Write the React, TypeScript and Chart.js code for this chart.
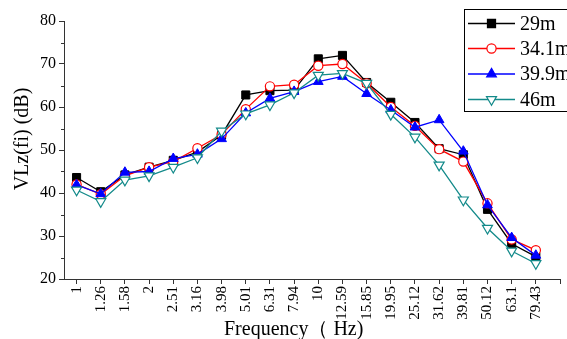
import React, { useEffect, useRef } from "react";
import { Chart, registerables } from "chart.js";

Chart.register(...registerables);

const freqLabels = ["1", "1.26", "1.58", "2", "2.51", "3.16", "3.98", "5.01", "6.31", "7.94", "10", "12.59", "15.85", "19.95", "25.12", "31.62", "39.81", "50.12", "63.1", "79.43"];

const s29m = [43.6, 40.3, 44.2, 46.0, 47.6, 49.5, 53.5, 62.8, 63.8, 63.9, 71.2, 72.0, 65.7, 61.1, 56.4, 50.3, 48.9, 36.2, 28.2, 25.2];
const s34m = [42.0, 39.7, 44.0, 46.0, 47.3, 50.4, 53.6, 59.5, 64.8, 65.2, 69.6, 70.0, 65.5, 60.0, 55.6, 50.2, 47.3, 37.6, 29.2, 26.7];
const s39m = [41.9, 39.8, 44.8, 45.0, 48.0, 49.0, 52.6, 58.6, 62.0, 63.6, 65.9, 67.1, 63.1, 59.3, 55.3, 57.0, 49.7, 37.2, 29.6, 25.5];
const s46m = [40.7, 38.0, 43.0, 44.0, 46.0, 48.2, 54.4, 58.4, 60.5, 63.3, 67.4, 67.8, 65.5, 58.3, 53.0, 46.5, 38.4, 31.8, 26.5, 23.6];

const seriesNames = ["29m", "34.1m", "39.9m", "46m"];
const TEAL = "#138a8a";

const serif = "'Liberation Serif', 'Times New Roman', serif";

const toPts = (arr: number[]) => arr.map((v, i) => ({ x: i, y: v }));

function drawMarker(ctx: CanvasRenderingContext2D, style: string, r: number, rot: number, x: number, y: number) {
  ctx.beginPath();
  if (style === "rect") {
    const s = Math.SQRT1_2 * r;
    ctx.rect(x - s, y - s, 2 * s, 2 * s);
  } else if (style === "circle") {
    ctx.arc(x, y, r, 0, Math.PI * 2);
  } else if (style === "triangle") {
    let rad = (rot * Math.PI) / 180;
    ctx.moveTo(x + Math.sin(rad) * r, y - Math.cos(rad) * r);
    rad += (2 * Math.PI) / 3;
    ctx.lineTo(x + Math.sin(rad) * r, y - Math.cos(rad) * r);
    rad += (2 * Math.PI) / 3;
    ctx.lineTo(x + Math.sin(rad) * r, y - Math.cos(rad) * r);
    ctx.closePath();
  }
  ctx.fill();
  ctx.stroke();
}

const decorPlugin = {
  id: "decor",
  beforeDraw(chart: any) {
    const ctx = chart.ctx;
    ctx.save();
    ctx.fillStyle = "#fff";
    ctx.fillRect(0, 0, chart.width, chart.height);
    ctx.restore();
  },
  afterDraw(chart: any) {
    const ctx = chart.ctx;
    const ys = chart.scales.y;
    ctx.save();
    // minor y ticks
    ctx.strokeStyle = "#333";
    ctx.lineWidth = 1;
    for (let v = 25; v < 80; v += 10) {
      const py = Math.round(ys.getPixelForValue(v)) + 0.5;
      ctx.beginPath();
      ctx.moveTo(ys.right - 3, py);
      ctx.lineTo(ys.right, py);
      ctx.stroke();
    }
    // axis titles
    ctx.fillStyle = "#000";
    ctx.font = `20px ${serif}`;
    ctx.textAlign = "left";
    ctx.textBaseline = "alphabetic";
    ctx.fillText("Frequency（ Hz)", 224, 335);
    ctx.save();
    ctx.translate(28, 139);
    ctx.rotate(-Math.PI / 2);
    ctx.textAlign = "center";
    ctx.fillText("VLz(fi) (dB)", 0, 0);
    ctx.restore();

    // legend
    ctx.strokeStyle = "#000";
    ctx.lineWidth = 1;
    ctx.strokeRect(464.5, 9.5, 140, 102);
    const rows = [23.5, 48.5, 74, 99.5];
    const ds = chart.data.datasets;
    ds.forEach((d: any, i: number) => {
      const y = rows[i];
      ctx.strokeStyle = d.borderColor;
      ctx.lineWidth = 1.3;
      ctx.beginPath();
      ctx.moveTo(468, y);
      ctx.lineTo(515, y);
      ctx.stroke();
      ctx.fillStyle = d.pointBackgroundColor;
      ctx.strokeStyle = d.borderColor;
      ctx.lineWidth = 1.2;
      drawMarker(ctx, d.pointStyle, d.pointRadius, d.pointRotation || 0, 491.5, y);
      ctx.fillStyle = "#000";
      ctx.font = `20px ${serif}`;
      ctx.textAlign = "left";
      ctx.textBaseline = "middle";
      ctx.fillText(seriesNames[i], 520, y + 1);
    });
    ctx.restore();
  },
};

export default function App() {
  const ref = useRef<HTMLCanvasElement | null>(null);
  useEffect(() => {
    if (!ref.current) return;
    const gridOpts = {
      drawOnChartArea: false,
      drawTicks: true,
      tickLength: 5,
      color: "#333",
      tickColor: "#333",
      lineWidth: 1,
    };
    const chart = new Chart(ref.current, {
      type: "line",
      data: {
        datasets: [
          {
            label: seriesNames[0],
            data: toPts(s29m),
            borderColor: "#000",
            backgroundColor: "#000",
            pointBackgroundColor: "#000",
            pointBorderColor: "#000",
            pointStyle: "rect",
            pointRadius: 5.7,
            pointBorderWidth: 1,
            borderWidth: 1.3,
            order: 3,
          },
          {
            label: seriesNames[1],
            data: toPts(s34m),
            borderColor: "#ff0000",
            backgroundColor: "#ff0000",
            pointBackgroundColor: "#fff",
            pointBorderColor: "#ff0000",
            pointStyle: "circle",
            pointRadius: 4.6,
            pointBorderWidth: 1.2,
            borderWidth: 1.3,
            order: 2,
          },
          {
            label: seriesNames[2],
            data: toPts(s39m),
            borderColor: "#0000ff",
            backgroundColor: "#0000ff",
            pointBackgroundColor: "#0000ff",
            pointBorderColor: "#0000ff",
            pointStyle: "triangle",
            pointRadius: 5.6,
            pointBorderWidth: 1,
            borderWidth: 1.3,
            order: 1,
          },
          {
            label: seriesNames[3],
            data: toPts(s46m),
            borderColor: TEAL,
            backgroundColor: TEAL,
            pointBackgroundColor: "#fff",
            pointBorderColor: TEAL,
            pointStyle: "triangle",
            pointRotation: 180,
            pointRadius: 5.8,
            pointBorderWidth: 1.2,
            borderWidth: 1.3,
            order: 0,
          } as any,
        ],
      },
      options: {
        animation: false,
        responsive: false,
        devicePixelRatio: 1,
        layout: { padding: { top: 21, right: 5, bottom: 0, left: 0 } },
        plugins: { legend: { display: false }, tooltip: { enabled: false } },
        scales: {
          x: {
            type: "linear",
            min: -0.52,
            max: 20,
            afterBuildTicks: (scale: any) => {
              scale.ticks = Array.from({ length: 21 }, (_, i) => ({ value: i }));
            },
            afterFit: (scale: any) => {
              scale.height = 60;
              scale.paddingLeft = 0;
              scale.paddingRight = 0;
            },
            ticks: {
              autoSkip: false,
              maxRotation: 90,
              minRotation: 90,
              padding: 2,
              color: "#000",
              font: { family: serif, size: 15 },
              callback: (v: any) => freqLabels[Number(v)] ?? "",
            },
            grid: gridOpts,
            border: { display: true, color: "#333", width: 1 },
          },
          y: {
            min: 20,
            max: 80,
            afterFit: (scale: any) => {
              scale.width = 64;
              scale.paddingTop = 0;
              scale.paddingBottom = 0;
            },
            ticks: {
              stepSize: 10,
              padding: 3,
              color: "#000",
              font: { family: serif, size: 16 },
            },
            grid: gridOpts,
            border: { display: true, color: "#333", width: 1 },
          },
        },
      } as any,
      plugins: [decorPlugin],
    });
    return () => chart.destroy();
  }, []);
  return (
    <div style={{ position: "fixed", left: 0, top: 0, width: 567, height: 339, background: "#fff" }}>
      <canvas ref={ref} width={567} height={339} style={{ width: 567, height: 339, display: "block" }} />
    </div>
  );
}
